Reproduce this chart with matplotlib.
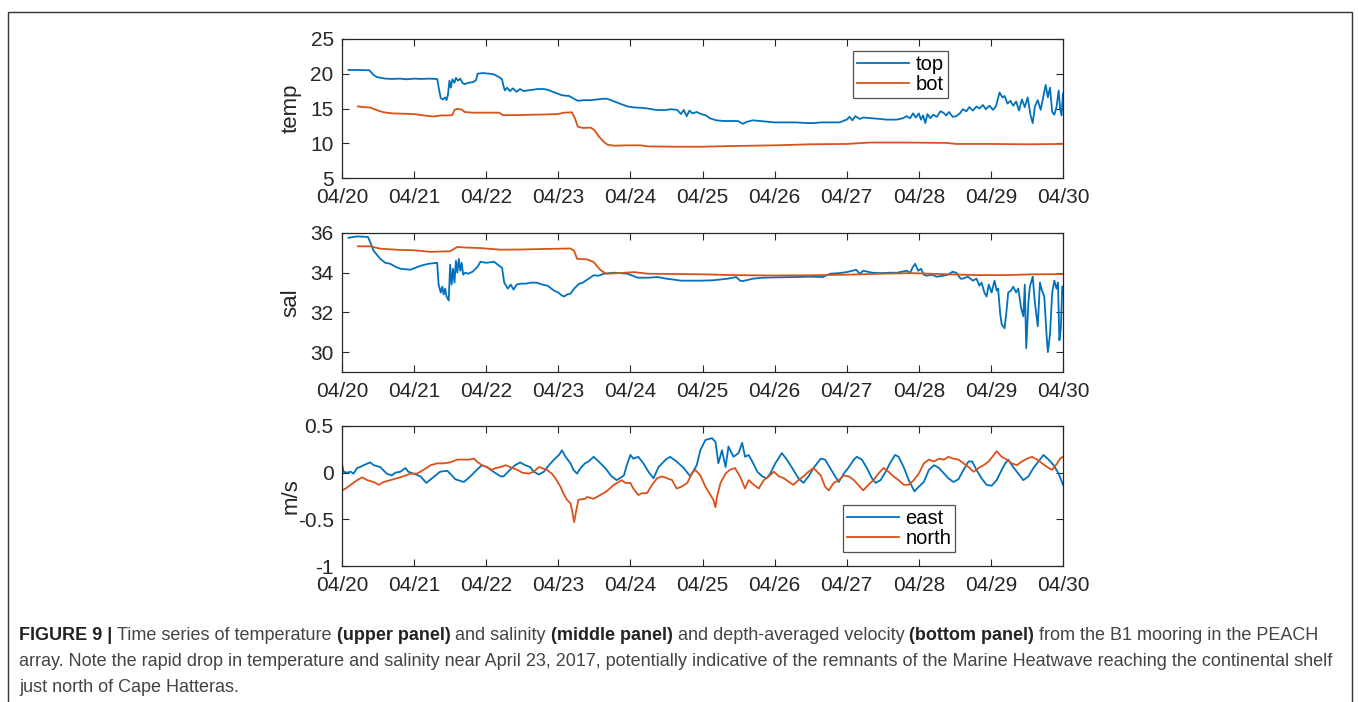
import matplotlib
matplotlib.use("Agg")
import matplotlib.pyplot as plt
from matplotlib.patches import Rectangle

plt.rcParams['font.family'] = ['Liberation Sans', 'DejaVu Sans']
plt.rcParams['axes.unicode_minus'] = False

# ---------------- data (days since 04/20) ----------------
day_ticks = [0, 1, 2, 3, 4, 5, 6, 7, 8, 9, 10]
day_labels = ['04/20', '04/21', '04/22', '04/23', '04/24', '04/25',
              '04/26', '04/27', '04/28', '04/29', '04/30']

temp_top_t = [0.09, 0.20, 0.38, 0.44, 0.49, 0.60, 0.70, 0.80, 0.90, 1.00, 1.10, 1.20, 1.32, 1.35, 1.37, 1.40,
              1.43, 1.45, 1.47, 1.49, 1.51, 1.53, 1.56, 1.58, 1.61, 1.64, 1.67, 1.70, 1.75, 1.82, 1.86, 1.88,
              1.95, 2.05, 2.11, 2.18, 2.22, 2.24, 2.26, 2.29, 2.33, 2.37, 2.42, 2.47, 2.52, 2.57, 2.65, 2.71,
              2.80, 2.85, 2.95, 3.05, 3.15, 3.22, 3.27, 3.35, 3.45, 3.54, 3.62, 3.68, 3.78, 3.88, 3.96, 4.05,
              4.15, 4.24, 4.35, 4.47, 4.56, 4.65, 4.70, 4.74, 4.78, 4.82, 4.86, 4.92, 4.98, 5.05, 5.10, 5.19,
              5.30, 5.38, 5.49, 5.56, 5.62, 5.70, 5.80, 5.89, 6.00, 6.10, 6.30, 6.45, 6.53, 6.65, 6.77, 6.90,
              6.95, 7.00, 7.04, 7.08, 7.12, 7.18, 7.23, 7.35, 7.46, 7.55, 7.69, 7.78, 7.83, 7.88, 7.92, 7.96,
              8.00, 8.03, 8.06, 8.09, 8.12, 8.16, 8.20, 8.25, 8.30, 8.34, 8.38, 8.42, 8.47, 8.52, 8.57, 8.61,
              8.66, 8.70, 8.75, 8.80, 8.84, 8.89, 8.93, 8.98, 9.03, 9.07, 9.12, 9.16, 9.19, 9.23, 9.27, 9.31,
              9.35, 9.39, 9.43, 9.47, 9.51, 9.55, 9.58, 9.61, 9.65, 9.69, 9.73, 9.76, 9.79, 9.82, 9.85, 9.88,
              9.91, 9.94, 9.96, 9.98, 10.0]
temp_top = [20.55, 20.55, 20.5, 19.8, 19.5, 19.3, 19.25, 19.3, 19.2, 19.3, 19.25, 19.3, 19.25, 17.5, 16.5, 16.3,
            16.6, 16.2, 17.0, 19.0, 18.0, 19.2, 18.7, 19.4, 19.0, 19.3, 18.7, 18.5, 18.7, 18.8, 19.1, 20.0,
            20.1, 20.0, 19.9, 19.5, 19.2, 18.2, 17.6, 18.0, 17.5, 17.9, 17.4, 17.8, 17.5, 17.6, 17.7, 17.8,
            17.8, 17.7, 17.3, 16.9, 16.8, 16.4, 16.1, 16.2, 16.2, 16.3, 16.4, 16.4, 16.0, 15.6, 15.3, 15.15,
            15.1, 15.0, 14.8, 14.75, 14.9, 14.8, 14.2, 14.8, 13.9, 14.7, 14.3, 14.5, 14.2, 14.0, 13.6, 13.3,
            13.2, 13.2, 13.2, 12.8, 13.1, 13.3, 13.2, 13.1, 13.0, 13.0, 13.0, 12.9, 12.9, 13.0, 13.0, 13.0,
            13.2, 13.4, 13.8, 13.3, 13.9, 13.5, 13.7, 13.6, 13.5, 13.4, 13.4, 13.6, 13.9, 13.6, 14.3, 13.7,
            14.3, 13.4, 14.0, 12.9, 14.2, 13.6, 14.1, 13.8, 14.6, 14.4, 14.0, 14.5, 13.8, 13.9, 14.3, 14.9,
            14.6, 15.2, 14.7, 15.3, 15.0, 15.5, 14.9, 15.4, 14.8, 15.3, 17.3, 16.6, 16.8, 15.7, 16.1, 15.4,
            16.0, 14.7, 16.3, 15.2, 16.6, 14.0, 12.9, 15.3, 16.2, 14.8, 16.9, 18.4, 16.6, 18.0, 14.5, 14.1,
            15.2, 17.6, 15.0, 14.0, 17.2]

temp_bot_t = [0.22, 0.30, 0.39, 0.50, 0.58, 0.70, 0.85, 1.00, 1.10, 1.18, 1.27, 1.37, 1.45, 1.53, 1.56, 1.60,
              1.66, 1.70, 1.80, 2.00, 2.18, 2.23, 2.40, 2.62, 2.85, 2.99, 3.08, 3.19, 3.23, 3.27, 3.34, 3.45,
              3.50, 3.56, 3.62, 3.68, 3.77, 3.95, 4.14, 4.24, 4.60, 5.00, 5.40, 6.00, 6.50, 7.00, 7.32, 7.80,
              8.38, 8.52, 9.00, 9.50, 10.0]
temp_bot = [15.3, 15.2, 15.15, 14.7, 14.45, 14.3, 14.25, 14.2, 14.05, 13.95, 13.85, 14.0, 14.0, 14.05, 14.8, 14.95,
            14.85, 14.5, 14.4, 14.4, 14.4, 14.05, 14.05, 14.1, 14.15, 14.2, 14.4, 14.45, 13.6, 12.4, 12.2, 12.25,
            11.9, 11.0, 10.3, 9.8, 9.65, 9.7, 9.7, 9.55, 9.5, 9.5, 9.6, 9.7, 9.85, 9.9, 10.1, 10.1,
            10.05, 9.9, 9.9, 9.85, 9.9]

sal_top_t = [0.09, 0.21, 0.36, 0.39, 0.44, 0.53, 0.60, 0.67, 0.74, 0.81, 0.95, 1.09, 1.20, 1.32, 1.34, 1.37,
             1.39, 1.41, 1.43, 1.45, 1.48, 1.50, 1.52, 1.54, 1.56, 1.58, 1.60, 1.62, 1.64, 1.66, 1.68, 1.71,
             1.75, 1.81, 1.88, 1.92, 2.00, 2.11, 2.18, 2.22, 2.25, 2.30, 2.34, 2.38, 2.42, 2.48, 2.55, 2.62,
             2.70, 2.78, 2.85, 2.94, 3.00, 3.05, 3.08, 3.12, 3.17, 3.22, 3.29, 3.34, 3.40, 3.49, 3.56, 3.63,
             3.77, 3.96, 4.10, 4.25, 4.38, 4.50, 4.61, 4.70, 4.98, 5.15, 5.35, 5.47, 5.52, 5.56, 5.70, 5.84,
             6.10, 6.30, 6.50, 6.67, 6.77, 6.90, 7.00, 7.08, 7.13, 7.18, 7.23, 7.35, 7.46, 7.60, 7.70, 7.83,
             7.88, 7.92, 7.95, 7.99, 8.03, 8.07, 8.11, 8.18, 8.25, 8.34, 8.40, 8.47, 8.52, 8.58, 8.61, 8.68,
             8.75, 8.80, 8.84, 8.87, 8.91, 8.94, 8.97, 9.01, 9.05, 9.08, 9.10, 9.13, 9.15, 9.19, 9.22, 9.24,
             9.28, 9.31, 9.35, 9.38, 9.42, 9.45, 9.47, 9.49, 9.52, 9.54, 9.58, 9.61, 9.65, 9.68, 9.70, 9.74,
             9.77, 9.79, 9.82, 9.85, 9.88, 9.91, 9.93, 9.95, 9.97, 9.99]
sal_top = [35.76, 35.83, 35.8, 35.55, 35.1, 34.7, 34.5, 34.45, 34.3, 34.2, 34.15, 34.35, 34.45, 34.5, 33.4, 33.0,
           33.3, 32.9, 33.2, 32.8, 32.6, 34.4, 33.4, 34.2, 33.5, 34.6, 34.0, 34.7, 34.1, 34.5, 33.9, 34.0,
           33.95, 34.05, 34.3, 34.55, 34.5, 34.55, 34.35, 34.25, 33.5, 33.2, 33.4, 33.15, 33.4, 33.45, 33.45, 33.5,
           33.5, 33.4, 33.35, 33.1, 33.0, 32.85, 32.8, 32.9, 32.95, 33.2, 33.45, 33.5, 33.65, 33.87, 33.85, 33.95,
           34.0, 33.95, 33.75, 33.75, 33.78, 33.7, 33.65, 33.6, 33.6, 33.62, 33.7, 33.78, 33.6, 33.58, 33.7, 33.75,
           33.77, 33.78, 33.8, 33.78, 33.95, 33.98, 34.03, 34.1, 34.15, 33.95, 34.1, 34.0, 33.98, 34.0, 34.0, 34.1,
           34.0, 34.3, 34.45, 34.1, 34.2, 33.9, 33.85, 33.9, 33.8, 33.85, 33.9, 34.05, 34.0, 33.7, 33.7, 33.8,
           33.6, 33.7, 33.35, 33.5, 33.0, 32.8, 33.4, 33.0, 33.6, 33.1, 33.2, 31.9, 31.4, 31.2, 32.2, 33.0,
           33.1, 33.3, 33.0, 33.2, 32.2, 31.8, 33.4, 30.2, 32.5, 33.3, 33.8, 32.5, 31.3, 33.5, 33.2, 32.8,
           31.0, 30.0, 30.9, 33.0, 33.6, 33.2, 33.5, 30.6, 31.2, 33.3]

sal_bot_t = [0.22, 0.39, 0.53, 0.80, 1.00, 1.23, 1.40, 1.50, 1.60, 1.70, 1.92, 2.20, 2.50, 2.85, 3.17, 3.22,
             3.26, 3.40, 3.49, 3.58, 3.66, 3.80, 4.05, 4.24, 5.00, 5.40, 6.00, 6.50, 7.00, 7.50, 7.90, 8.40,
             8.80, 9.20, 9.60, 10.0]
sal_bot = [35.33, 35.33, 35.21, 35.15, 35.13, 35.05, 35.07, 35.08, 35.3, 35.27, 35.24, 35.16, 35.17, 35.2, 35.22, 35.1,
           34.7, 34.67, 34.54, 34.15, 33.95, 33.97, 34.03, 33.95, 33.92, 33.88, 33.86, 33.87, 33.9, 33.95, 33.98, 33.92,
           33.88, 33.88, 33.92, 33.93]

east_t = [0.0, 0.02, 0.07, 0.12, 0.16, 0.21, 0.25, 0.30, 0.39, 0.44, 0.53, 0.62, 0.69, 0.74, 0.81, 0.88,
          0.92, 0.99, 1.09, 1.17, 1.25, 1.36, 1.46, 1.50, 1.57, 1.69, 1.78, 1.87, 1.94, 2.01, 2.10, 2.20,
          2.24, 2.33, 2.40, 2.47, 2.54, 2.61, 2.66, 2.73, 2.80, 2.87, 2.94, 3.01, 3.05, 3.10, 3.17, 3.21,
          3.26, 3.31, 3.37, 3.42, 3.49, 3.56, 3.65, 3.74, 3.81, 3.91, 3.95, 4.00, 4.04, 4.11, 4.18, 4.25,
          4.32, 4.39, 4.49, 4.55, 4.64, 4.74, 4.83, 4.92, 4.97, 5.04, 5.13, 5.18, 5.22, 5.27, 5.32, 5.36,
          5.43, 5.50, 5.55, 5.59, 5.64, 5.69, 5.76, 5.83, 5.89, 5.94, 6.01, 6.10, 6.17, 6.26, 6.33, 6.40,
          6.47, 6.54, 6.64, 6.70, 6.77, 6.84, 6.89, 6.96, 7.03, 7.10, 7.14, 7.21, 7.28, 7.35, 7.40, 7.47,
          7.54, 7.60, 7.67, 7.72, 7.79, 7.86, 7.94, 8.00, 8.07, 8.14, 8.21, 8.28, 8.35, 8.41, 8.48, 8.55,
          8.62, 8.69, 8.74, 8.80, 8.87, 8.94, 9.01, 9.08, 9.15, 9.20, 9.24, 9.31, 9.38, 9.45, 9.52, 9.59,
          9.66, 9.73, 9.80, 9.87, 9.94, 10.0]
east = [0.10, 0.01, 0.0, 0.01, -0.01, 0.05, 0.06, 0.08, 0.11, 0.08, 0.06, -0.01, -0.03, 0.0, 0.01, 0.05,
        0.01, -0.01, -0.04, -0.11, -0.06, 0.01, 0.02, -0.01, -0.07, -0.10, -0.04, 0.03, 0.08, 0.06, 0.01, -0.04,
        -0.04, 0.03, 0.08, 0.11, 0.08, 0.06, 0.01, -0.02, 0.01, 0.08, 0.14, 0.19, 0.24, 0.17, 0.10, 0.03,
        -0.01, 0.05, 0.10, 0.12, 0.17, 0.12, 0.05, -0.04, -0.08, -0.03, 0.08, 0.19, 0.15, 0.17, 0.10, 0.01,
        -0.06, 0.06, 0.14, 0.17, 0.12, 0.05, -0.04, 0.08, 0.24, 0.35, 0.37, 0.33, 0.10, 0.24, 0.06, 0.28,
        0.17, 0.21, 0.32, 0.17, 0.19, 0.12, 0.01, -0.04, -0.06, -0.01, 0.10, 0.21, 0.14, 0.03, -0.06, -0.11,
        -0.04, 0.05, 0.15, 0.14, 0.05, -0.04, -0.10, -0.01, 0.06, 0.14, 0.17, 0.14, 0.05, -0.06, -0.11, -0.08,
        0.01, 0.10, 0.19, 0.17, 0.06, -0.08, -0.20, -0.15, -0.10, 0.03, 0.08, 0.05, -0.01, -0.06, -0.10, -0.07,
        0.03, 0.12, 0.12, 0.03, -0.06, -0.13, -0.14, -0.08, 0.03, 0.10, 0.14, 0.06, -0.01, -0.08, -0.04, 0.05,
        0.12, 0.19, 0.14, 0.08, -0.01, -0.13]

north_t = [0.0, 0.05, 0.12, 0.21, 0.28, 0.35, 0.44, 0.51, 0.58, 0.67, 0.76, 0.85, 0.95, 1.04, 1.13, 1.23,
           1.32, 1.41, 1.50, 1.60, 1.69, 1.76, 1.83, 1.87, 1.94, 2.01, 2.08, 2.13, 2.20, 2.27, 2.33, 2.43,
           2.50, 2.59, 2.66, 2.73, 2.77, 2.84, 2.91, 2.96, 3.03, 3.07, 3.12, 3.17, 3.19, 3.22, 3.25, 3.28,
           3.37, 3.40, 3.49, 3.58, 3.67, 3.77, 3.84, 3.88, 3.93, 4.00, 4.04, 4.11, 4.16, 4.23, 4.30, 4.37,
           4.44, 4.51, 4.58, 4.64, 4.71, 4.79, 4.85, 4.90, 4.97, 5.04, 5.11, 5.15, 5.18, 5.20, 5.25, 5.32,
           5.38, 5.45, 5.52, 5.59, 5.64, 5.71, 5.78, 5.85, 5.92, 5.99, 6.06, 6.13, 6.20, 6.26, 6.33, 6.40,
           6.47, 6.54, 6.64, 6.70, 6.75, 6.82, 6.89, 6.96, 7.03, 7.10, 7.16, 7.23, 7.30, 7.37, 7.44, 7.51,
           7.58, 7.65, 7.72, 7.79, 7.86, 7.93, 8.00, 8.07, 8.14, 8.21, 8.28, 8.35, 8.41, 8.48, 8.55, 8.62,
           8.69, 8.76, 8.83, 8.90, 8.97, 9.02, 9.08, 9.15, 9.22, 9.29, 9.36, 9.43, 9.50, 9.57, 9.64, 9.71,
           9.78, 9.85, 9.92, 9.96, 10.0]
north = [-0.19, -0.17, -0.13, -0.08, -0.05, -0.08, -0.10, -0.13, -0.10, -0.08, -0.06, -0.04, -0.01, -0.01, 0.03, 0.08,
         0.10, 0.10, 0.11, 0.14, 0.14, 0.14, 0.15, 0.12, 0.08, 0.06, 0.03, 0.05, 0.06, 0.08, 0.06, 0.03,
         0.0, -0.01, 0.01, 0.06, 0.05, 0.03, -0.01, -0.06, -0.15, -0.22, -0.29, -0.33, -0.40, -0.53, -0.40, -0.29,
         -0.28, -0.26, -0.28, -0.24, -0.20, -0.13, -0.10, -0.08, -0.11, -0.11, -0.17, -0.24, -0.22, -0.22, -0.13, -0.06,
         -0.04, -0.06, -0.08, -0.17, -0.15, -0.11, -0.01, 0.03, -0.03, -0.15, -0.24, -0.29, -0.37, -0.26, -0.11, -0.01,
         0.03, 0.05, -0.04, -0.17, -0.08, -0.13, -0.17, -0.08, -0.04, 0.01, -0.04, -0.06, -0.10, -0.13, -0.08, -0.04,
         0.01, 0.05, -0.03, -0.15, -0.19, -0.11, -0.08, -0.03, -0.04, -0.08, -0.13, -0.19, -0.13, -0.08, -0.01, 0.05,
         0.01, -0.04, -0.08, -0.13, -0.13, -0.08, -0.01, 0.10, 0.14, 0.12, 0.15, 0.14, 0.17, 0.15, 0.14, 0.10,
         0.06, 0.01, 0.05, 0.08, 0.12, 0.17, 0.23, 0.17, 0.14, 0.10, 0.08, 0.12, 0.15, 0.17, 0.14, 0.10,
         0.06, 0.03, 0.10, 0.15, 0.17]

temp_yticks = [5, 10, 15, 20, 25]
sal_yticks = [30, 32, 34, 36]
vel_yticks = [-1, -0.5, 0, 0.5]
vel_ylabels = ['-1', '-0.5', '0', '0.5']

caption_line1 = [("FIGURE 9 | ", True), ("Time series of temperature ", False), ("(upper panel)", True),
                 (" and salinity ", False), ("(middle panel)", True), (" and depth-averaged velocity ", False),
                 ("(bottom panel)", True), (" from the B1 mooring in the PEACH", False)]
caption_line2 = [("array. Note the rapid drop in temperature and salinity near April 23, 2017, potentially "
                  "indicative of the remnants of the Marine Heatwave reaching the continental shelf", False)]
caption_line3 = [("just north of Cape Hatteras.", False)]

# ---------------- styling ----------------
BLUE = '#0072BD'
ORANGE = '#D95319'
AXC = '#262626'
W, H = 1358, 702
fig = plt.figure(figsize=(W / 100, H / 100), dpi=100)

def px_axes(left, top, right, bottom):
    return fig.add_axes([left / W, 1 - bottom / H, (right - left) / W, (bottom - top) / H])

def style(ax, yticks, ylim, ylabel, ylabels=None):
    ax.set_xlim(0, 10)
    ax.set_ylim(*ylim)
    ax.set_xticks(day_ticks)
    ax.set_xticklabels(day_labels)
    ax.set_yticks(yticks)
    if ylabels is not None:
        ax.set_yticklabels(ylabels)
    ax.tick_params(direction='in', length=5, width=0.8, colors=AXC, labelsize=15,
                   top=True, right=True)
    ax.tick_params(axis='y', pad=6)
    ax.tick_params(axis='x', pad=7)
    for s in ax.spines.values():
        s.set_color(AXC)
        s.set_linewidth(0.9)
    ax.set_ylabel(ylabel, fontsize=16, color=AXC)
    ax.yaxis.set_label_coords(-0.056, 0.5)

LW = 1.3
legkw = dict(fontsize=14.5, frameon=True, fancybox=False, edgecolor=AXC, handlelength=2.6,
             handletextpad=0.3, borderpad=0.2, labelspacing=0.05, borderaxespad=0)

ax1 = px_axes(342, 39, 1063, 178)
ax1.plot(temp_top_t, temp_top, color=BLUE, lw=LW, label='top')
ax1.plot(temp_bot_t, temp_bot, color=ORANGE, lw=LW, label='bot')
style(ax1, temp_yticks, (5, 25), 'temp')
leg1 = ax1.legend(loc='upper left', bbox_to_anchor=((853 - 342) / 721, 1 - (51 - 39) / 139), **legkw)
leg1.get_frame().set_linewidth(0.9)

ax2 = px_axes(342, 233, 1063, 372)
ax2.plot(sal_top_t, sal_top, color=BLUE, lw=LW)
ax2.plot(sal_bot_t, sal_bot, color=ORANGE, lw=LW)
style(ax2, sal_yticks, (29, 36), 'sal')

ax3 = px_axes(342, 426, 1063, 566)
ax3.plot(east_t, east, color=BLUE, lw=LW, label='east')
ax3.plot(north_t, north, color=ORANGE, lw=LW, label='north')
style(ax3, vel_yticks, (-1, 0.5), 'm/s', vel_ylabels)
leg3 = ax3.legend(loc='upper left', bbox_to_anchor=((843 - 342) / 721, 1 - (505 - 426) / 140), **legkw)
leg3.get_frame().set_linewidth(0.9)

# outer frame
fig.patches.append(Rectangle((8 / W, -0.01), (1352 - 8) / W, 1.01 - 12 / H,
                             transform=fig.transFigure, fill=False, edgecolor='#333333', lw=1.0))

# caption with mixed bold, fitted so the second line ends where the reference's does
renderer = fig.canvas.get_renderer()

def draw_line(pieces, x0, y, fs, draw=True):
    x = x0
    made = []
    for txt, bold in pieces:
        t = fig.text(x / W, 1 - y / H, txt, fontsize=fs, va='center', ha='left',
                     fontweight='bold' if bold else 'normal',
                     color='#222222' if bold else '#444444')
        x += t.get_window_extent(renderer=renderer).width
        made.append(t)
    if not draw:
        for t in made:
            t.remove()
    return x

base = 12.0
end = draw_line(caption_line2, 19, 662, base, draw=False)
CAP_FS = base * (1337 - 19) / (end - 19)
draw_line(caption_line1, 19, 636, CAP_FS)
draw_line(caption_line2, 19, 662, CAP_FS)
draw_line(caption_line3, 19, 688, CAP_FS)

fig.savefig('out.png', dpi=100)
